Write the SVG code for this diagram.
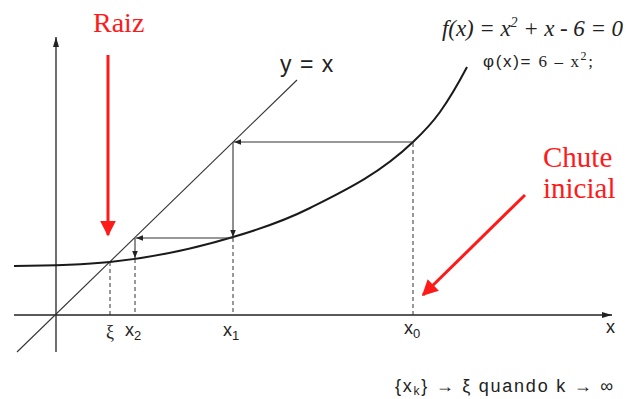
<svg xmlns="http://www.w3.org/2000/svg" width="641" height="399" viewBox="0 0 641 399">
<style>
.ax{stroke:#222;stroke-width:1.3;fill:none}
.ln{stroke:#333;stroke-width:1.1;fill:none}
.cv{stroke:#1a1a1a;stroke-width:2;fill:none}
.ds{stroke:#333;stroke-width:1;fill:none;stroke-dasharray:4 3}
.red{stroke:#ff1a1a;stroke-width:3;fill:none}
.rt{font-family:"Liberation Serif",serif;fill:#ff1a1a;font-size:28px}
.lb{font-family:"Liberation Sans",Arial,sans-serif;fill:#222;font-size:18px}
.it{font-family:"Liberation Serif",serif;font-style:italic;fill:#222;font-size:23px}
</style>
<defs>
<marker id="ah" viewBox="0 0 10 10" refX="10" refY="5" markerWidth="7" markerHeight="7" markerUnits="userSpaceOnUse" orient="auto"><path d="M0,1 L10,5 L0,9 Z" fill="#222"/></marker>
<marker id="ax" viewBox="0 0 10 10" refX="10" refY="5" markerWidth="10" markerHeight="10" markerUnits="userSpaceOnUse" orient="auto"><path d="M0,2 L10,5 L0,8 Z" fill="#222"/></marker>
<marker id="rh" viewBox="0 0 10 10" refX="9" refY="5" markerWidth="16" markerHeight="16" markerUnits="userSpaceOnUse" orient="auto"><path d="M0,0 L10,5 L0,10 Z" fill="#ff1a1a"/></marker>
</defs>
<g id="axes">
<line class="ax" x1="56" y1="352" x2="56" y2="37" marker-end="url(#ax)"/>
<line class="ax" x1="14" y1="315" x2="612" y2="315" marker-end="url(#ax)"/>
</g>
<g id="curves">
<line class="ln" x1="17" y1="352" x2="297" y2="80"/>
<path class="cv" d="M14,266 C46,265.7 78,265.2 110,262 C151,257.9 192,249.3 233,237 C258.7,229.5 284.3,220.9 310,208 C344.3,190.8 378.7,174.6 413,142 C422,133.5 431,124.6 440,112 C449,99.4 458,84.1 467,67"/>
</g>
<g id="connectors">
<line class="ln" x1="413" y1="142" x2="234" y2="142" marker-end="url(#ah)"/>
<line class="ln" x1="233" y1="142" x2="233" y2="237" marker-end="url(#ah)"/>
<line class="ln" x1="233" y1="238" x2="136" y2="238" marker-end="url(#ah)"/>
<line class="ln" x1="135" y1="238" x2="135" y2="258" marker-end="url(#ah)"/>
<line class="ds" x1="110" y1="262" x2="110" y2="315"/>
<line class="ds" x1="135" y1="259" x2="135" y2="315"/>
<line class="ds" x1="233" y1="238" x2="233" y2="315"/>
<line class="ds" x1="413" y1="143" x2="413" y2="315"/>
</g>
<g id="labels">
<text class="lb" x="280" y="72" style="font-size:23px" word-spacing="2">y = x</text>
<text class="lb" x="110" y="338" text-anchor="middle" style="font-family:'Liberation Serif',serif">ξ</text>
<text class="lb" x="125" y="336">x<tspan font-size="13" dy="4">2</tspan></text>
<text class="lb" x="223" y="336">x<tspan font-size="13" dy="4">1</tspan></text>
<text class="lb" x="404" y="334">x<tspan font-size="13" dy="4">0</tspan></text>
<text class="lb" x="606" y="333">x</text>
<text class="lb" x="395" y="392" style="font-size:18px" textLength="218">{x<tspan font-size="12" dy="3">k</tspan><tspan dy="-3">} → ξ quando k → ∞</tspan></text>
</g>
<g id="formulas">
<text class="it" x="442" y="36" textLength="181">f(x) = x<tspan font-size="14" dy="-9">2</tspan><tspan dy="9"> + x - 6 = 0</tspan></text>
<text x="483" y="67" textLength="110" style="font-family:'Liberation Sans',sans-serif;font-size:17px;fill:#222">φ(x)= <tspan style="font-family:'Liberation Serif',serif">6 – x<tspan font-size="12" dy="-7">2</tspan><tspan dy="7">;</tspan></tspan></text>
</g>
<g id="raiz">
<text class="rt" x="93" y="32">Raiz</text>
<line class="red" x1="108" y1="55" x2="108" y2="235" marker-end="url(#rh)"/>
</g>
<g id="chute">
<text class="rt" x="543" y="167" style="font-size:29px">Chute</text>
<text class="rt" x="543" y="198" style="font-size:29px">inicial</text>
<line class="red" x1="525" y1="195" x2="423" y2="295" marker-end="url(#rh)"/>
</g>
</svg>
